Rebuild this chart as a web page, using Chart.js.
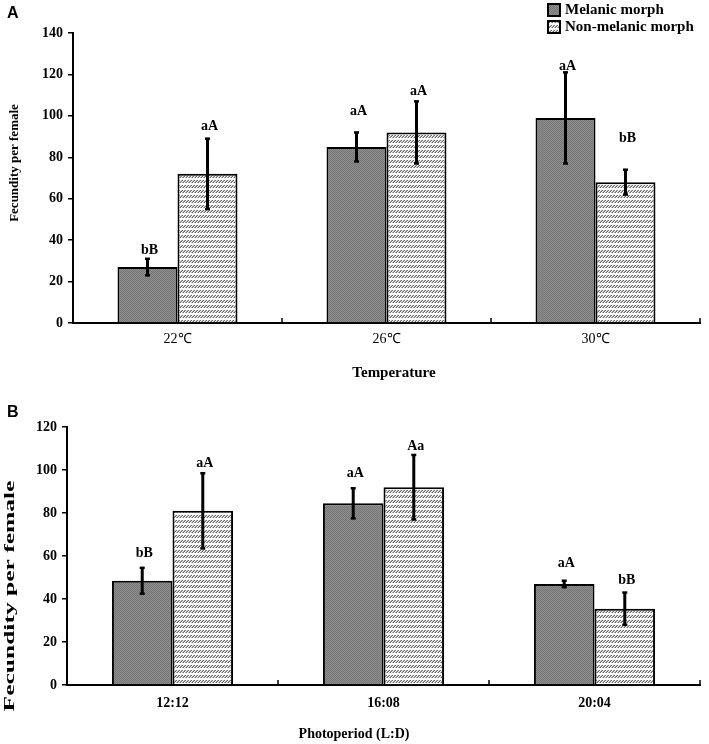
<!DOCTYPE html>
<html><head><meta charset="utf-8">
<script src="https://cdn.jsdelivr.net/npm/chart.js@4.4.1/dist/chart.umd.min.js"></script>
<style>
html,body{margin:0;padding:0;background:#fff;}
#wrap{position:relative;width:709px;height:744px;background:#fff;}
canvas{position:absolute;left:0;}
#ca{top:0;} #cb{top:380px;}
</style></head><body>
<div id="wrap"><canvas id="ca" width="709" height="380"></canvas><canvas id="cb" width="709" height="364"></canvas></div>
<script>
// ---------- DATA ----------
const seriesNames = ['Melanic morph', 'Non-melanic morph'];

const tempCategories = ['22\u2103', '26\u2103', '30\u2103'];
const tempMelanic = [27, 85, 99];
const tempMelanicErr = [4, 7, 22];
const tempNonMelanic = [72, 92, 68];
const tempNonMelanicErr = [17, 15, 6];
const tempMelanicLetters = ['bB', 'aA', 'aA'];
const tempNonMelanicLetters = ['aA', 'aA', 'bB'];
const tempMelanicLetterAt = [35, 102, 124];
const tempNonMelanicLetterAt = [95, 112, 89];
const tempTicks = [0, 20, 40, 60, 80, 100, 120, 140];

const photoCategories = ['12:12', '16:08', '20:04'];
const photoMelanic = [48.5, 84.5, 47];
const photoMelanicErr = [6, 7, 1.5];
const photoNonMelanic = [81, 92, 35.5];
const photoNonMelanicErr = [17.5, 15, 7.5];
const photoMelanicLetters = ['bB', 'aA', 'aA'];
const photoNonMelanicLetters = ['aA', 'Aa', 'bB'];
const photoMelanicLetterAt = [61, 98.6, 56.7];
const photoNonMelanicLetterAt = [103, 111, 48.8];
const photoTicks = [0, 20, 40, 60, 80, 100, 120];

// ---------- PATTERNS ----------
function melPattern(ctx) {
  const c = document.createElement('canvas'); c.width = 2; c.height = 2;
  const g = c.getContext('2d');
  g.fillStyle = '#8e8e8e'; g.fillRect(0, 0, 2, 2);
  g.fillStyle = '#767676'; g.fillRect(0, 0, 1, 1); g.fillRect(1, 1, 1, 1);
  return ctx.createPattern(c, 'repeat');
}
function nonPattern(ctx) {
  const c = document.createElement('canvas'); c.width = 3; c.height = 5;
  const g = c.getContext('2d');
  g.fillStyle = '#ffffff'; g.fillRect(0, 0, 3, 5);
  g.fillStyle = '#6a6a6a';
  g.fillRect(2, 0, 1, 1); g.fillRect(1, 1, 1, 1); g.fillRect(0, 2, 1, 1);
  g.fillStyle = '#b0b0b0';
  g.fillRect(1, 0, 1, 1); g.fillRect(0, 1, 1, 1); g.fillRect(2, 2, 1, 1);
  return ctx.createPattern(c, 'repeat');
}

const SERIF = '"Liberation Serif", "Times New Roman", serif';
const SANS = '"Liberation Sans", Arial, sans-serif';

function line(ctx, x1, y1, x2, y2) { ctx.beginPath(); ctx.moveTo(x1, y1); ctx.lineTo(x2, y2); ctx.stroke(); }

const decor = {
  id: 'decor',
  afterDatasetsDraw(chart, args, o) {
    const ctx = chart.ctx, ys = chart.scales.y, a = chart.chartArea;
    ctx.save();
    chart.data.datasets.forEach((ds, di) => {
      const meta = chart.getDatasetMeta(di);
      meta.data.forEach((bar, i) => {
        const m = ds.data[i], e = o.errs[di][i];
        const yt = ys.getPixelForValue(m + e), yb = ys.getPixelForValue(m - e);
        ctx.strokeStyle = '#000';
        ctx.lineWidth = 3; line(ctx, bar.x, yt, bar.x, yb);
        ctx.lineWidth = 2.5;
        line(ctx, bar.x - 2.5, yt, bar.x + 2.5, yt);
        line(ctx, bar.x - 2.5, yb, bar.x + 2.5, yb);
        ctx.fillStyle = '#000';
        ctx.font = 'bold 14px ' + SERIF;
        ctx.textAlign = 'center'; ctx.textBaseline = 'middle';
        ctx.fillText(o.letters[di][i], bar.x + 2, ys.getPixelForValue(o.letterAt[di][i]));
      });
    });
    // category boundary ticks (inward)
    const n = chart.data.labels.length, w = (a.right - a.left) / n;
    ctx.strokeStyle = '#000'; ctx.lineWidth = 1.5;
    for (let k = 1; k <= n; k++) {
      const px = Math.round(a.left + k * w);
      line(ctx, px, a.bottom, px, a.bottom - 5);
    }
    ctx.restore();
  },
  afterDraw(chart, args, o) {
    const ctx = chart.ctx, a = chart.chartArea;
    ctx.save();
    ctx.fillStyle = '#000';
    // panel letter
    ctx.font = 'bold 16px ' + SANS;
    ctx.textAlign = 'left'; ctx.textBaseline = 'alphabetic';
    ctx.fillText(o.panel, 7, o.panelY);
    // x title
    ctx.font = o.xTitleFont;
    ctx.textAlign = 'center'; ctx.textBaseline = 'middle';
    ctx.fillText(o.xTitle, o.xTitleX, o.xTitleY);
    // y title
    ctx.save();
    ctx.translate(o.yTitleX, o.yTitleY);
    ctx.rotate(-Math.PI / 2);
    ctx.scale(o.yTitleStretch, 1);
    ctx.font = o.yTitleFont;
    ctx.fillText('Fecundity per female', 0, 0);
    ctx.restore();
    // legend
    if (o.legend) {
      const ds = chart.data.datasets;
      ds.forEach((d, i) => {
        const by = 4 + i * 17;
        ctx.fillStyle = d.backgroundColor;
        ctx.fillRect(548, by, 12, 12);
        ctx.strokeStyle = '#000'; ctx.lineWidth = 2;
        ctx.strokeRect(548, by, 12, 12);
        ctx.fillStyle = '#000';
        ctx.font = 'bold 15px ' + SERIF;
        ctx.textAlign = 'left'; ctx.textBaseline = 'middle';
        ctx.fillText(d.label, 565, by + 6);
      });
    }
    ctx.restore();
  }
};

function build(canvasId, p) {
  const ctx = document.getElementById(canvasId).getContext('2d');
  return new Chart(ctx, {
    type: 'bar',
    data: {
      labels: p.labels,
      datasets: [
        { label: seriesNames[0], data: p.mel, backgroundColor: melPattern(ctx), borderColor: '#000', borderWidth: 2, categoryPercentage: 0.574, barPercentage: 1.0 },
        { label: seriesNames[1], data: p.non, backgroundColor: nonPattern(ctx), borderColor: '#000', borderWidth: 2, categoryPercentage: 0.574, barPercentage: 1.0 }
      ]
    },
    options: {
      responsive: false,
      animation: false,
      layout: { padding: { top: p.top, right: 9, left: 0, bottom: 0 } },
      plugins: {
        legend: { display: false },
        tooltip: { enabled: false },
        decor: p.decor
      },
      scales: {
        x: {
          grid: { display: false, drawTicks: false },
          border: { display: true, color: '#000', width: 2 },
          ticks: { color: '#000', font: p.xFont, padding: p.xPad, maxRotation: 0 },
          afterFit: s => { s.height = p.xHeight; }
        },
        y: {
          min: 0, max: p.ticks[p.ticks.length - 1],
          afterBuildTicks: s => { s.ticks = p.ticks.map(v => ({ value: v })); },
          grid: { display: true, drawOnChartArea: false, drawTicks: true, tickLength: 5, color: '#000', lineWidth: 1.5 },
          border: { display: true, color: '#000', width: 2 },
          ticks: { color: '#000', font: p.yFont, padding: 5 },
          afterFit: s => { s.width = p.yWidth; }
        }
      }
    },
    plugins: [decor]
  });
}

build('ca', {
  labels: tempCategories, mel: tempMelanic, non: tempNonMelanic, ticks: tempTicks,
  top: 33, xHeight: 57, yWidth: 73, xPad: 8,
  xFont: { family: SERIF, size: 14, weight: 'normal' },
  yFont: { family: SERIF, size: 14, weight: 'bold' },
  decor: {
    errs: [tempMelanicErr, tempNonMelanicErr],
    letters: [tempMelanicLetters, tempNonMelanicLetters],
    letterAt: [tempMelanicLetterAt, tempNonMelanicLetterAt],
    panel: 'A', panelY: 18,
    xTitle: 'Temperature', xTitleX: 394, xTitleY: 373, xTitleFont: 'bold 15px ' + SERIF,
    yTitleX: 15, yTitleY: 163, yTitleStretch: 1, yTitleFont: 'bold 13px ' + SERIF,
    legend: true
  }
});

build('cb', {
  labels: photoCategories, mel: photoMelanic, non: photoNonMelanic, ticks: photoTicks,
  top: 47, xHeight: 59, yWidth: 67, xPad: 10,
  xFont: { family: SERIF, size: 14, weight: 'bold' },
  yFont: { family: SERIF, size: 14, weight: 'bold' },
  decor: {
    errs: [photoMelanicErr, photoNonMelanicErr],
    letters: [photoMelanicLetters, photoNonMelanicLetters],
    letterAt: [photoMelanicLetterAt, photoNonMelanicLetterAt],
    panel: 'B', panelY: 37,
    xTitle: 'Photoperiod (L:D)', xTitleX: 354, xTitleY: 354, xTitleFont: 'bold 14px ' + SERIF,
    yTitleX: 10, yTitleY: 216, yTitleStretch: 1.7, yTitleFont: 'bold 15px ' + SERIF,
    legend: false
  }
});
</script>
</body></html>
